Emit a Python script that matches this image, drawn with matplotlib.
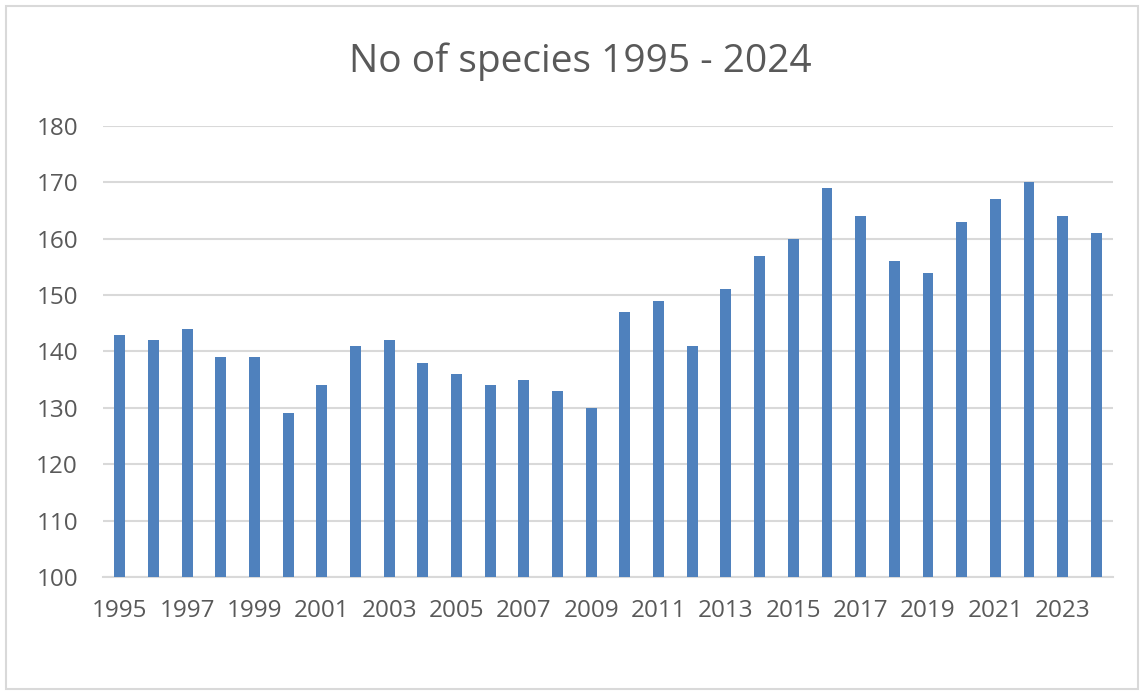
import numpy as np
import matplotlib.pyplot as plt
from matplotlib.patches import Rectangle

# species counts per year
years = list(range(1995, 2025))
species = [143, 142, 144, 139, 139, 129, 134, 141, 142, 138,
           136, 134, 135, 133, 130, 147, 149, 141, 151, 157,
           160, 169, 164, 156, 154, 163, 167, 170, 164, 161]
y_ticks = [100, 110, 120, 130, 140, 150, 160, 170, 180]

text_color = "#595959"
bar_color = "#4f81bd"
grid_color = "#d9d9d9"

plt.rcParams["font.family"] = ["Open Sans", "DejaVu Sans"]

fig = plt.figure(figsize=(11.44, 6.91), dpi=100)
ax = fig.add_axes([0.090, 0.165, 0.883, 0.6527])

x = np.arange(len(years))
ax.bar(x, species, width=0.32, color=bar_color, zorder=3)

ax.set_xlim(-0.5, len(years) - 0.5)
ax.set_ylim(100, 180)
ax.set_yticks(y_ticks)
ax.set_yticklabels([str(v) for v in y_ticks])
ax.set_xticks(x[::2])
ax.set_xticklabels([str(y) for y in years[::2]])

ax.tick_params(axis="both", length=0, labelsize=17.5, colors=text_color)
ax.tick_params(axis="y", pad=18)
ax.tick_params(axis="x", pad=16)

ax.grid(axis="y", color=grid_color, linewidth=1.5, zorder=0)
for side in ["top", "right", "left"]:
    ax.spines[side].set_visible(False)
ax.spines["bottom"].set_color(grid_color)
ax.spines["bottom"].set_linewidth(1.5)

fig.text(0.507, 0.91, "No of species 1995 - 2024", ha="center", va="center",
         fontsize=28, color=text_color)

# light chart border
fig.patches.append(Rectangle((0.005, 0.003), 0.99, 0.988, transform=fig.transFigure,
                             fill=False, edgecolor="#d9d9d9", linewidth=1.5))

fig.savefig("out.png", dpi=100)
